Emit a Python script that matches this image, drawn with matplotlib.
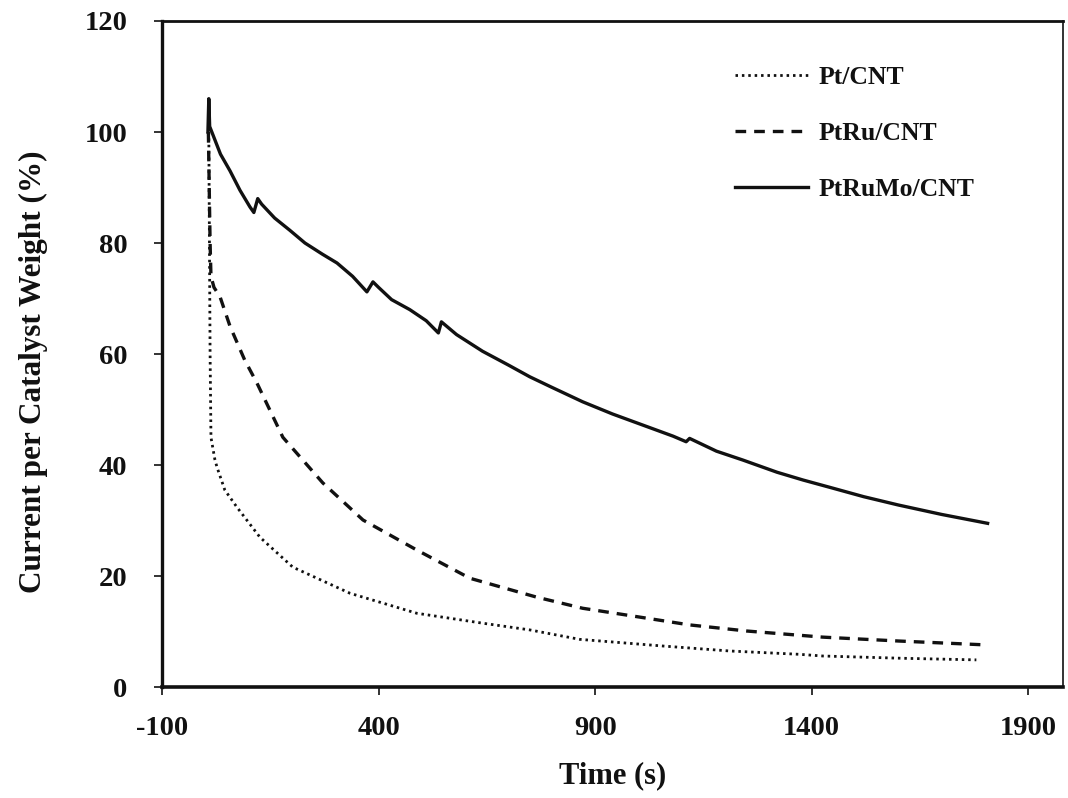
import matplotlib
matplotlib.use("Agg")
import matplotlib.pyplot as plt

# Chronoamperometry curves
pt_time = [8, 11, 13, 22, 27, 45, 73, 126, 202, 334, 488, 641, 749, 864, 1056, 1211, 1372, 1425, 1603, 1780]
pt_current = [100, 60, 45, 41, 39.6, 35.5, 32.4, 27, 21.6, 16.9, 13.3, 11.5, 10.3, 8.6, 7.4, 6.5, 5.9, 5.6, 5.2, 4.9]

ptru_time = [7, 9, 11, 13, 20, 34, 57, 91, 119, 179, 271, 364, 488, 611, 765, 871, 987, 1118, 1250, 1425, 1600, 1801]
ptru_current = [100, 90, 80, 74, 72, 70.3, 65, 58.9, 54.8, 45, 36.8, 30.1, 24.7, 19.6, 16.2, 14.2, 12.8, 11.2, 10.1, 9.0, 8.3, 7.6]

ptrumo_time = [6, 8, 10, 15, 22, 35, 57, 80, 103, 112, 121, 130, 160, 195, 230, 270, 304, 340, 373, 387,
               400, 430, 472, 510, 538, 545, 580, 640, 700, 749, 800, 871, 940, 1010, 1080, 1110, 1118,
               1180, 1241, 1320, 1380, 1441, 1520, 1600, 1700, 1806]
ptrumo_current = [100, 106, 101, 100, 98.6, 96, 93, 89.5, 86.5, 85.5, 88, 87, 84.5, 82.3, 80, 78, 76.4, 74, 71.2, 73,
                  72, 69.8, 68, 66, 63.8, 65.8, 63.5, 60.5, 58, 55.9, 54, 51.4, 49.2, 47.2, 45.2, 44.2, 44.8,
                  42.5, 40.9, 38.7, 37.3, 36.0, 34.3, 32.8, 31.1, 29.5]

x_ticks = [-100, 400, 900, 1400, 1900]
y_ticks = [0, 20, 40, 60, 80, 100, 120]

_INK = "#111111"

plt.rcParams["font.family"] = ["Liberation Serif", "DejaVu Serif"]
plt.rcParams["font.weight"] = "bold"
plt.rcParams["axes.unicode_minus"] = False

fig = plt.figure(figsize=(10.68, 7.98), dpi=100, facecolor="white")
ax = fig.add_axes([0.1517, 0.139, 0.8436, 0.8347])

ax.plot(pt_time, pt_current, color=_INK, lw=2.0, linestyle=(0, (0.9, 1.4)), label="Pt/CNT")
ax.plot(ptru_time, ptru_current, color=_INK, lw=2.4, linestyle=(0, (3.2, 2.4)), label="PtRu/CNT")
ax.plot(ptrumo_time, ptrumo_current, color=_INK, lw=2.4, linestyle="-", label="PtRuMo/CNT")

ax.set_xlim(-100, 1980)
ax.set_ylim(0, 120)
ax.set_xticks(x_ticks)
ax.set_yticks(y_ticks)
ax.tick_params(axis="both", direction="out", length=6, width=1.2, colors=_INK, labelsize=20.5)
ax.tick_params(axis="x", pad=15)
ax.tick_params(axis="y", pad=19)

for side, lw in [("left", 2.4), ("bottom", 2.6), ("top", 2.0), ("right", 1.2)]:
    ax.spines[side].set_linewidth(lw)
    ax.spines[side].set_color(_INK)

ax.set_xlabel("Time (s)", fontsize=22, fontweight="bold", color=_INK)
ax.set_ylabel("Current per Catalyst Weight (%)", fontsize=22.5, fontweight="bold", color=_INK)
ax.xaxis.set_label_coords(0.5, -0.112)
ax.yaxis.set_label_coords(-0.127, 0.474)

leg = ax.legend(
    loc="upper left", bbox_to_anchor=(0.622, 0.951), frameon=False,
    fontsize=18.5, handlelength=2.85, handletextpad=0.4, labelspacing=1.28, borderpad=0,
)
for txt in leg.get_texts():
    txt.set_color(_INK)
    txt.set_fontweight("bold")

fig.savefig("out.png", dpi=100, facecolor="white")
